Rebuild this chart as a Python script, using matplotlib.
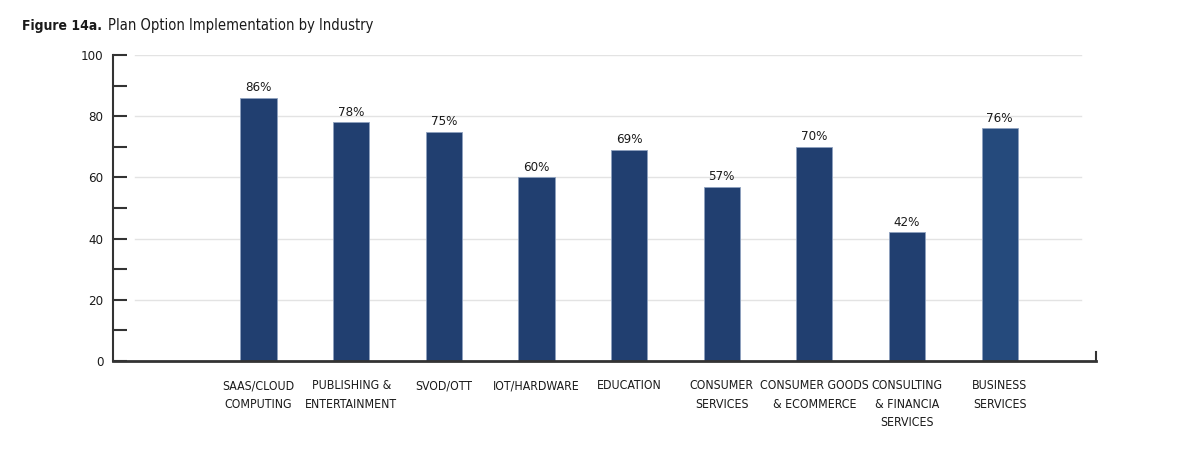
import matplotlib.pyplot as plt
from matplotlib.transforms import offset_copy

# data
categories = [
    "SAAS/CLOUD\nCOMPUTING",
    "PUBLISHING &\nENTERTAINMENT",
    "SVOD/OTT",
    "IOT/HARDWARE",
    "EDUCATION",
    "CONSUMER\nSERVICES",
    "CONSUMER GOODS\n& ECOMMERCE",
    "CONSULTING\n& FINANCIA\nSERVICES",
    "BUSINESS\nSERVICES",
]
values = [86, 78, 75, 60, 69, 57, 70, 42, 76]
value_labels = ["86%", "78%", "75%", "60%", "69%", "57%", "70%", "42%", "76%"]

plt.rcParams["font.family"] = ["DejaVu Sans"]
plt.rcParams["font.stretch"] = "condensed"

fig = plt.figure(figsize=(11.95, 4.69), dpi=100)
ax = fig.add_axes([0.0946, 0.2303, 0.8226, 0.6524])

# first slot on the x axis is left empty, like the original
positions = list(range(1, len(categories) + 1))
bar_colors = ["#213f70"] * 8 + ["#254a7c"]

for y in [20, 40, 60, 80, 100]:
    ax.axhline(y, xmin=0.022, xmax=0.985, color="#e3e3e3", linewidth=1, zorder=0)

bars = ax.bar(positions, values, width=0.39, color=bar_colors,
              edgecolor="#8ea1bf", linewidth=0.6, zorder=2)

for pos, val, lab in zip(positions, values, value_labels):
    ax.text(pos, val + 1.2, lab, ha="center", va="bottom", fontsize=9.5, color="#1a1a1a")

ax.set_xlim(-0.57, 10.04)
ax.set_ylim(0, 100)

ax.set_yticks([0, 20, 40, 60, 80, 100])
ax.set_yticks([10, 30, 50, 70, 90], minor=True)
ax.tick_params(axis="y", which="both", direction="in", length=10, width=1.5,
               color="#333333", labelsize=9.5, pad=7, labelcolor="#1a1a1a")

ax.set_xticks(positions)
ax.set_xticklabels(categories, fontsize=8.8, color="#1a1a1a", linespacing=1.55)
ax.tick_params(axis="x", length=0, pad=13)

for side in ["top", "right"]:
    ax.spines[side].set_visible(False)
ax.spines["left"].set_color("#333333")
ax.spines["left"].set_linewidth(1.5)
ax.spines["bottom"].set_color("#333333")
ax.spines["bottom"].set_linewidth(2)

# small upward tick closing the x axis on the right
ax.plot([1, 1], [0, 0.03], transform=ax.transAxes, color="#333333",
        linewidth=1.5, clip_on=False)

# title: bold figure number followed by the regular caption
t1 = fig.text(0.018, 0.935, "Figure 14a.", fontsize=10, fontweight="bold", color="#1a1a1a")
fig.canvas.draw()
w = t1.get_window_extent().width
fig.text(0.018, 0.935, "Plan Option Implementation by Industry", fontsize=10.5,
         color="#1a1a1a",
         transform=offset_copy(fig.transFigure, fig=fig, x=w + 6, units="dots"))

plt.savefig("out.png", dpi=100)
